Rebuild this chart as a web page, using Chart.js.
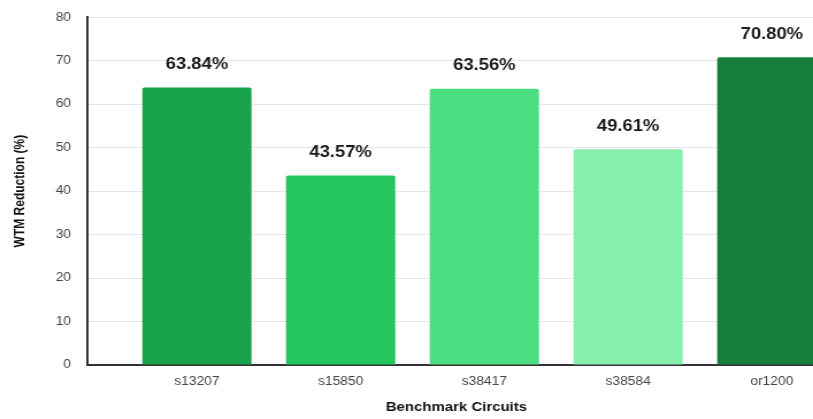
<!DOCTYPE html>
<html>
<head>
<meta charset="utf-8">
<script src="https://cdn.jsdelivr.net/npm/chart.js@4/dist/chart.umd.min.js"></script>
<style>
html,body{margin:0;padding:0;background:#fff;overflow:hidden;width:813px;height:419px;position:relative;}
#wrap{width:718px;height:423px;position:absolute;left:0;top:-4px;transform:scaleX(1.15);transform-origin:0 0;}
canvas{display:block;}
</style>
</head>
<body>
<div id="wrap"><canvas id="c" width="718" height="423" style="width:718px;height:423px"></canvas></div>
<script>
const categories = ['s13207', 's15850', 's38417', 's38584', 'or1200'];
const reduction = [63.84, 43.57, 63.56, 49.61, 70.80];
const barColors = ['#18a34a', '#22c55e', '#4ade80', '#86efac', '#157f3d'];
const yTicks = [0, 10, 20, 30, 40, 50, 60, 70, 80];

const points = categories.map((c, i) => ({x: i, y: reduction[i]}));

const labelPlugin = {
  id: 'valueLabels',
  afterDatasetsDraw(chart) {
    const ctx = chart.ctx;
    const meta = chart.getDatasetMeta(0);
    ctx.save();
    ctx.font = 'bold 16px "Liberation Sans", Arial, sans-serif';
    ctx.fillStyle = '#1a1a1a';
    ctx.textAlign = 'center';
    ctx.textBaseline = 'middle';
    meta.data.forEach((el, i) => {
      ctx.fillText(reduction[i].toFixed(2) + '%', el.x, el.y - 23);
    });
    ctx.restore();
  }
};

new Chart(document.getElementById('c'), {
  type: 'bar',
  data: {
    datasets: [{
      data: points,
      backgroundColor: barColors,
      borderRadius: {topLeft: 2, topRight: 2},
      borderSkipped: 'bottom',
      barPercentage: 0.76,
      categoryPercentage: 1.0
    }]
  },
  options: {
    responsive: false,
    animation: false,
    devicePixelRatio: 1,
    layout: {padding: {top: 0, left: 10, right: 0, bottom: 4}},
    plugins: {legend: {display: false}, tooltip: {enabled: false}},
    scales: {
      x: {
        type: 'linear',
        offset: false,
        min: -0.764,
        max: 4.375,
        afterBuildTicks(scale) {
          scale.ticks = categories.map((c, i) => ({value: i}));
        },
        ticks: {
          callback: (v) => categories[v] !== undefined ? categories[v] : '',
          color: '#444',
          font: {size: 12, family: '"Liberation Sans", Arial, sans-serif'},
          padding: 9,
          autoSkip: false,
          maxRotation: 0
        },
        grid: {display: false, drawTicks: false},
        border: {display: true, color: '#333', width: 2},
        title: {
          display: true,
          text: 'Benchmark Circuits',
          color: '#111',
          font: {size: 13, weight: 'bold', family: '"Liberation Sans", Arial, sans-serif'},
          padding: {top: 2, bottom: 0}
        }
      },
      y: {
        min: 0,
        max: 80,
        afterBuildTicks(scale) {
          scale.ticks = yTicks.map(v => ({value: v}));
        },
        ticks: {
          color: '#444',
          font: {size: 12, family: '"Liberation Sans", Arial, sans-serif'},
          padding: 14
        },
        grid: {color: '#e6e6e6', drawTicks: false},
        border: {display: true, color: '#333', width: 2},
        title: {
          display: true,
          text: 'WTM Reduction (%)',
          color: '#111',
          font: {size: 12, weight: 'bold', family: '"Liberation Sans", Arial, sans-serif'},
          padding: {top: 0, bottom: 10}
        }
      }
    }
  },
  plugins: [labelPlugin]
});
</script>
</body>
</html>
